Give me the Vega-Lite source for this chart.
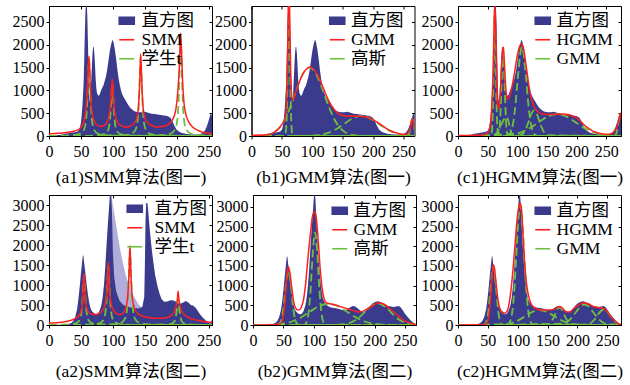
{
"$schema":"https://vega.github.io/schema/vega-lite/v6.json",
"padding":{"left":11,"top":5,"right":0,"bottom":0},
"autosize":{"type":"pad"},
"config":{
 "font":"Liberation Serif, Noto Sans CJK SC",
 "view":{"stroke":"#000","strokeWidth":1},
 "axis":{"labelFont":"Liberation Serif, Noto Sans CJK SC","labelFontSize":16,"labelColor":"#000","domainColor":"#000","tickColor":"#000","tickSize":3,"grid":false,"labelFlush":false,"labelOverlap":false,"format":"d","titleFont":"Liberation Serif, Noto Sans CJK SC","titleFontSize":17.5,"titleFontWeight":"normal","titleColor":"#000"},
 "axisY":{"labelPadding":2,"labelOverlap":false},
 "axisX":{"labelPadding":4,"titlePadding":9},
 "legend":{"labelFont":"Liberation Serif, Noto Sans CJK SC","labelFontSize":17.5,"labelColor":"#000","symbolType":"stroke","symbolSize":225,"rowPadding":0,"labelOffset":5,"padding":0}
},
"datasets":{
"ax":[{"v":0,"y":0}],
"h1":[{"x":0,"y":15},{"x":10,"y":15},{"x":20,"y":25},{"x":25,"y":50},{"x":30,"y":60},{"x":35,"y":70},{"x":40,"y":80},{"x":45,"y":100},{"x":48,"y":150},{"x":50,"y":300},{"x":52,"y":600},{"x":54,"y":1100},{"x":55,"y":1600},{"x":56,"y":2200},{"x":57,"y":2700},{"x":58,"y":2950},{"x":59,"y":2950},{"x":60,"y":2600},{"x":61,"y":2000},{"x":62,"y":1300},{"x":63,"y":850},{"x":64,"y":750},{"x":65,"y":900},{"x":66,"y":1200},{"x":67,"y":1500},{"x":68,"y":1800},{"x":69,"y":1950},{"x":70,"y":1950},{"x":71,"y":1800},{"x":72,"y":1550},{"x":73,"y":1250},{"x":74,"y":1050},{"x":75,"y":950},{"x":77,"y":880},{"x":79,"y":900},{"x":81,"y":980},{"x":83,"y":1050},{"x":85,"y":1100},{"x":87,"y":1200},{"x":89,"y":1300},{"x":91,"y":1450},{"x":93,"y":1650},{"x":95,"y":1850},{"x":97,"y":2000},{"x":99,"y":2100},{"x":100,"y":2100},{"x":101,"y":2050},{"x":103,"y":1900},{"x":105,"y":1700},{"x":107,"y":1450},{"x":109,"y":1250},{"x":111,"y":1100},{"x":113,"y":980},{"x":115,"y":900},{"x":118,"y":820},{"x":121,"y":750},{"x":124,"y":680},{"x":127,"y":620},{"x":130,"y":580},{"x":133,"y":550},{"x":136,"y":530},{"x":140,"y":520},{"x":145,"y":520},{"x":150,"y":530},{"x":155,"y":510},{"x":160,"y":490},{"x":165,"y":480},{"x":170,"y":470},{"x":175,"y":460},{"x":180,"y":450},{"x":185,"y":440},{"x":190,"y":400},{"x":193,"y":330},{"x":196,"y":230},{"x":200,"y":130},{"x":205,"y":80},{"x":210,"y":60},{"x":215,"y":45},{"x":220,"y":40},{"x":225,"y":35},{"x":230,"y":35},{"x":235,"y":40},{"x":240,"y":60},{"x":243,"y":100},{"x":246,"y":180},{"x":249,"y":300},{"x":251,"y":400},{"x":253,"y":500},{"x":255,"y":450}],
"h2":[{"x":0,"y":0},{"x":20,"y":5},{"x":30,"y":20},{"x":35,"y":50},{"x":38,"y":100},{"x":41,"y":200},{"x":44,"y":400},{"x":46,"y":650},{"x":48,"y":950},{"x":50,"y":1300},{"x":52,"y":1600},{"x":53,"y":1750},{"x":54,"y":1720},{"x":55,"y":1550},{"x":57,"y":1300},{"x":59,"y":1000},{"x":61,"y":750},{"x":63,"y":550},{"x":65,"y":420},{"x":67,"y":350},{"x":70,"y":300},{"x":73,"y":270},{"x":76,"y":280},{"x":79,"y":350},{"x":82,"y":500},{"x":84,"y":700},{"x":86,"y":1000},{"x":88,"y":1450},{"x":90,"y":2000},{"x":92,"y":2500},{"x":94,"y":2950},{"x":95,"y":3200},{"x":96,"y":3350},{"x":97,"y":3350},{"x":98,"y":3100},{"x":99,"y":2700},{"x":101,"y":2100},{"x":103,"y":1600},{"x":105,"y":1200},{"x":107,"y":900},{"x":109,"y":700},{"x":111,"y":600},{"x":114,"y":520},{"x":117,"y":480},{"x":120,"y":460},{"x":124,"y":440},{"x":128,"y":430},{"x":132,"y":420},{"x":136,"y":400},{"x":140,"y":380},{"x":144,"y":380},{"x":148,"y":400},{"x":152,"y":450},{"x":156,"y":480},{"x":160,"y":470},{"x":164,"y":420},{"x":168,"y":360},{"x":172,"y":330},{"x":176,"y":350},{"x":180,"y":420},{"x":184,"y":500},{"x":188,"y":560},{"x":192,"y":590},{"x":196,"y":600},{"x":200,"y":580},{"x":204,"y":540},{"x":208,"y":500},{"x":212,"y":480},{"x":216,"y":470},{"x":220,"y":460},{"x":224,"y":470},{"x":228,"y":480},{"x":231,"y":450},{"x":234,"y":380},{"x":238,"y":280},{"x":242,"y":200},{"x":246,"y":130},{"x":250,"y":70},{"x":253,"y":30},{"x":255,"y":10}],
"h2a":[{"x":0,"y":0},{"x":20,"y":5},{"x":30,"y":20},{"x":35,"y":50},{"x":38,"y":100},{"x":41,"y":200},{"x":44,"y":400},{"x":46,"y":650},{"x":48,"y":950},{"x":50,"y":1300},{"x":52,"y":1600},{"x":53,"y":1750},{"x":54,"y":1720},{"x":55,"y":1550},{"x":57,"y":1300},{"x":59,"y":1000},{"x":61,"y":750},{"x":63,"y":550},{"x":65,"y":420},{"x":67,"y":350},{"x":70,"y":300},{"x":73,"y":270},{"x":76,"y":280},{"x":79,"y":350},{"x":82,"y":500},{"x":84,"y":700},{"x":86,"y":1000},{"x":88,"y":1450},{"x":90,"y":2000},{"x":92,"y":2500},{"x":94,"y":2950},{"x":95,"y":3200},{"x":96,"y":3350},{"x":97,"y":3350},{"x":98,"y":3100},{"x":99,"y":2600},{"x":100,"y":1800},{"x":102,"y":1200},{"x":105,"y":850},{"x":110,"y":620},{"x":115,"y":520},{"x":120,"y":470},{"x":130,"y":430},{"x":140,"y":410},{"x":146,"y":450},{"x":149,"y":700},{"x":150,"y":1500},{"x":151,"y":2600},{"x":152,"y":3050},{"x":154,"y":3050},{"x":155,"y":2900},{"x":157,"y":2500},{"x":160,"y":2000},{"x":163,"y":1600},{"x":166,"y":1250},{"x":170,"y":950},{"x":173,"y":780},{"x":176,"y":650},{"x":180,"y":580},{"x":185,"y":590},{"x":190,"y":620},{"x":195,"y":610},{"x":200,"y":570},{"x":205,"y":530},{"x":210,"y":560},{"x":214,"y":600},{"x":218,"y":560},{"x":222,"y":500},{"x":226,"y":480},{"x":230,"y":420},{"x":234,"y":320},{"x":238,"y":230},{"x":242,"y":160},{"x":246,"y":100},{"x":250,"y":50},{"x":253,"y":40},{"x":255,"y":150}],
"lav":[{"x":99,"y":3150},{"x":102,"y":2800},{"x":106,"y":2400},{"x":110,"y":2000},{"x":115,"y":1600},{"x":120,"y":1250},{"x":125,"y":1000},{"x":130,"y":800},{"x":135,"y":650},{"x":140,"y":520},{"x":145,"y":430},{"x":149,"y":380}],
"rA1":[{"x":0,"y":50},{"x":15,"y":60},{"x":30,"y":80},{"x":40,"y":110},{"x":48,"y":160},{"x":53,"y":260},{"x":56,"y":400},{"x":58,"y":600},{"x":60,"y":1000},{"x":61,"y":1300},{"x":62,"y":1600},{"x":62.6,"y":1750},{"x":63.5,"y":1550},{"x":64.5,"y":1100},{"x":66,"y":700},{"x":68,"y":450},{"x":71,"y":320},{"x":75,"y":240},{"x":80,"y":210},{"x":85,"y":220},{"x":90,"y":280},{"x":94,"y":450},{"x":96,"y":650},{"x":97.5,"y":950},{"x":99,"y":1250},{"x":100.5,"y":950},{"x":102,"y":620},{"x":104,"y":430},{"x":108,"y":290},{"x":114,"y":220},{"x":120,"y":200},{"x":126,"y":210},{"x":132,"y":260},{"x":137,"y":380},{"x":140,"y":650},{"x":142,"y":1200},{"x":143.4,"y":1800},{"x":145,"y":1250},{"x":147,"y":650},{"x":150,"y":400},{"x":155,"y":280},{"x":162,"y":220},{"x":170,"y":200},{"x":178,"y":210},{"x":186,"y":250},{"x":193,"y":350},{"x":198,"y":550},{"x":201,"y":900},{"x":203.5,"y":1400},{"x":205,"y":1900},{"x":206,"y":2250},{"x":207.5,"y":1800},{"x":209,"y":1200},{"x":211,"y":750},{"x":214,"y":480},{"x":219,"y":300},{"x":226,"y":180},{"x":235,"y":110},{"x":245,"y":70},{"x":255,"y":50}],
"gA1":[{"x":0,"y":3,"k":1},{"x":37.6,"y":17,"k":1},{"x":48.6,"y":51,"k":1},{"x":54.6,"y":136,"k":1},{"x":57.6,"y":306,"k":1},{"x":59.6,"y":680,"k":1},{"x":60.6,"y":1020,"k":1},{"x":61.6,"y":1445,"k":1},{"x":62.6,"y":1700,"k":1},{"x":63.6,"y":1445,"k":1},{"x":64.6,"y":1020,"k":1},{"x":65.6,"y":680,"k":1},{"x":67.6,"y":306,"k":1},{"x":70.6,"y":136,"k":1},{"x":76.6,"y":51,"k":1},{"x":87.6,"y":17,"k":1},{"x":112.6,"y":5,"k":1},{"x":255,"y":1,"k":1},
{"x":0,"y":2,"k":2},{"x":49,"y":3,"k":2},{"x":74,"y":12,"k":2},{"x":85,"y":35,"k":2},{"x":91,"y":92,"k":2},{"x":94,"y":207,"k":2},{"x":96,"y":460,"k":2},{"x":97,"y":690,"k":2},{"x":98,"y":978,"k":2},{"x":99,"y":1150,"k":2},{"x":100,"y":978,"k":2},{"x":101,"y":690,"k":2},{"x":102,"y":460,"k":2},{"x":104,"y":207,"k":2},{"x":107,"y":92,"k":2},{"x":113,"y":35,"k":2},{"x":124,"y":12,"k":2},{"x":149,"y":3,"k":2},{"x":255,"y":1,"k":2},
{"x":0,"y":2,"k":3},{"x":93.4,"y":5,"k":3},{"x":118.4,"y":18,"k":3},{"x":129.4,"y":53,"k":3},{"x":135.4,"y":140,"k":3},{"x":138.4,"y":315,"k":3},{"x":140.4,"y":700,"k":3},{"x":141.4,"y":1050,"k":3},{"x":142.4,"y":1488,"k":3},{"x":143.4,"y":1750,"k":3},{"x":144.4,"y":1488,"k":3},{"x":145.4,"y":1050,"k":3},{"x":146.4,"y":700,"k":3},{"x":148.4,"y":315,"k":3},{"x":151.4,"y":140,"k":3},{"x":157.4,"y":53,"k":3},{"x":168.4,"y":18,"k":3},{"x":193.4,"y":5,"k":3},{"x":255,"y":2,"k":3},
{"x":0,"y":2,"k":4},{"x":156,"y":6,"k":4},{"x":181,"y":22,"k":4},{"x":192,"y":65,"k":4},{"x":198,"y":172,"k":4},{"x":201,"y":387,"k":4},{"x":203,"y":860,"k":4},{"x":204,"y":1290,"k":4},{"x":205,"y":1828,"k":4},{"x":206,"y":2150,"k":4},{"x":207,"y":1828,"k":4},{"x":208,"y":1290,"k":4},{"x":209,"y":860,"k":4},{"x":211,"y":387,"k":4},{"x":214,"y":172,"k":4},{"x":220,"y":65,"k":4},{"x":231,"y":22,"k":4},{"x":255,"y":6,"k":4}],
"rB1":[{"x":0,"y":15},{"x":20,"y":20},{"x":30,"y":45},{"x":40,"y":128},{"x":45,"y":203},{"x":50,"y":306},{"x":53,"y":408},{"x":55,"y":840},{"x":56.5,"y":1900},{"x":57.5,"y":2790},{"x":58.5,"y":3200},{"x":59.5,"y":2860},{"x":60.5,"y":2040},{"x":62,"y":1080},{"x":64,"y":790},{"x":66,"y":830},{"x":70,"y":1000},{"x":75,"y":1190},{"x":80,"y":1350},{"x":85,"y":1450},{"x":91,"y":1510},{"x":96,"y":1480},{"x":100,"y":1410},{"x":105,"y":1290},{"x":110,"y":1130},{"x":115,"y":960},{"x":120,"y":800},{"x":125,"y":670},{"x":130,"y":570},{"x":135,"y":500},{"x":140,"y":460},{"x":150,"y":440},{"x":160,"y":440},{"x":170,"y":435},{"x":180,"y":415},{"x":190,"y":360},{"x":200,"y":270},{"x":210,"y":175},{"x":220,"y":100},{"x":230,"y":55},{"x":238,"y":35},{"x":243,"y":45},{"x":246,"y":80},{"x":248.5,"y":190},{"x":250,"y":318},{"x":251.5,"y":378},{"x":253,"y":317},{"x":255,"y":150}],
"gB1":[{"x":0,"y":0,"k":1},{"x":50,"y":0,"k":1},{"x":53,"y":25,"k":1},{"x":55,"y":400,"k":1},{"x":56.5,"y":1420,"k":1},{"x":57.5,"y":2270,"k":1},{"x":58.5,"y":2650,"k":1},{"x":59.5,"y":2270,"k":1},{"x":60.5,"y":1420,"k":1},{"x":62,"y":400,"k":1},{"x":64,"y":25,"k":1},{"x":67,"y":0,"k":1},{"x":255,"y":0,"k":1},
{"x":0,"y":1,"k":2},{"x":20,"y":13,"k":2},{"x":30,"y":44,"k":2},{"x":40,"y":128,"k":2},{"x":50,"y":306,"k":2},{"x":60,"y":608,"k":2},{"x":70,"y":1000,"k":2},{"x":80,"y":1352,"k":2},{"x":91,"y":1500,"k":2},{"x":100,"y":1387,"k":2},{"x":110,"y":1066,"k":2},{"x":120,"y":678,"k":2},{"x":130,"y":356,"k":2},{"x":140,"y":155,"k":2},{"x":150,"y":56,"k":2},{"x":165,"y":8,"k":2},{"x":180,"y":1,"k":2},{"x":255,"y":0,"k":2},
{"x":0,"y":0,"k":3},{"x":90,"y":4,"k":3},{"x":100,"y":12,"k":3},{"x":115,"y":47,"k":3},{"x":125,"y":97,"k":3},{"x":135,"y":172,"k":3},{"x":145,"y":267,"k":3},{"x":155,"y":361,"k":3},{"x":163,"y":416,"k":3},{"x":172,"y":440,"k":3},{"x":185,"y":392,"k":3},{"x":195,"y":306,"k":3},{"x":205,"y":208,"k":3},{"x":215,"y":124,"k":3},{"x":225,"y":64,"k":3},{"x":235,"y":29,"k":3},{"x":245,"y":11,"k":3},{"x":255,"y":4,"k":3},
{"x":0,"y":0,"k":4},{"x":240,"y":0,"k":4},{"x":244,"y":4,"k":4},{"x":246.5,"y":50,"k":4},{"x":248.5,"y":180,"k":4},{"x":250,"y":310,"k":4},{"x":251.5,"y":370,"k":4},{"x":253,"y":310,"k":4},{"x":255,"y":140,"k":4}],
"rC1":[{"x":0,"y":10},{"x":30,"y":15},{"x":40,"y":25},{"x":45,"y":50},{"x":50,"y":200},{"x":53,"y":700},{"x":55,"y":1500},{"x":56.5,"y":2500},{"x":57.5,"y":2900},{"x":59,"y":2300},{"x":60.5,"y":1300},{"x":62,"y":700},{"x":64,"y":600},{"x":66,"y":900},{"x":68,"y":1500},{"x":70,"y":1900},{"x":71,"y":1950},{"x":73,"y":1500},{"x":75,"y":1000},{"x":77,"y":800},{"x":80,"y":850},{"x":84,"y":1050},{"x":88,"y":1350},{"x":92,"y":1700},{"x":96,"y":1950},{"x":99,"y":2020},{"x":102,"y":1950},{"x":105,"y":1700},{"x":108,"y":1400},{"x":111,"y":1100},{"x":114,"y":880},{"x":117,"y":720},{"x":121,"y":600},{"x":126,"y":520},{"x":132,"y":480},{"x":140,"y":470},{"x":150,"y":470},{"x":160,"y":480},{"x":168,"y":475},{"x":175,"y":460},{"x":182,"y":420},{"x":188,"y":370},{"x":194,"y":290},{"x":200,"y":210},{"x":206,"y":150},{"x":212,"y":100},{"x":218,"y":70},{"x":224,"y":50},{"x":230,"y":40},{"x":236,"y":40},{"x":242,"y":70},{"x":246,"y":130},{"x":249,"y":230},{"x":251,"y":330},{"x":253,"y":450},{"x":254,"y":500},{"x":255,"y":380}],
"gC1":[{"x":0,"y":0,"k":1},{"x":51,"y":0,"k":1},{"x":53,"y":100,"k":1},{"x":55,"y":900,"k":1},{"x":56.5,"y":2200,"k":1},{"x":57.5,"y":2750,"k":1},{"x":58.5,"y":2200,"k":1},{"x":60,"y":900,"k":1},{"x":62,"y":100,"k":1},{"x":64,"y":0,"k":1},{"x":255,"y":0,"k":1},
{"x":0,"y":0,"k":2},{"x":62,"y":0,"k":2},{"x":65,"y":150,"k":2},{"x":67,"y":700,"k":2},{"x":69,"y":1500,"k":2},{"x":70.5,"y":1850,"k":2},{"x":72,"y":1500,"k":2},{"x":74,"y":700,"k":2},{"x":76,"y":150,"k":2},{"x":79,"y":0,"k":2},{"x":255,"y":0,"k":2},
{"x":0,"y":0,"k":3},{"x":75,"y":3,"k":3},{"x":80,"y":33,"k":3},{"x":86,"y":264,"k":3},{"x":90,"y":701,"k":3},{"x":94,"y":1344,"k":3},{"x":100,"y":1950,"k":3},{"x":106,"y":1344,"k":3},{"x":110,"y":701,"k":3},{"x":114,"y":264,"k":3},{"x":120,"y":33,"k":3},{"x":126,"y":2,"k":3},{"x":255,"y":0,"k":3},
{"x":0,"y":0,"k":4},{"x":50,"y":2,"k":4},{"x":56,"y":18,"k":4},{"x":60,"y":57,"k":4},{"x":64,"y":136,"k":4},{"x":68,"y":254,"k":4},{"x":72,"y":368,"k":4},{"x":76,"y":420,"k":4},{"x":79,"y":320,"k":4},{"x":82,"y":135,"k":4},{"x":85,"y":33,"k":4},{"x":88,"y":4,"k":4},{"x":255,"y":0,"k":4},
{"x":0,"y":0,"k":5},{"x":95,"y":6,"k":5},{"x":100,"y":34,"k":5},{"x":105,"y":122,"k":5},{"x":110,"y":296,"k":5},{"x":115,"y":495,"k":5},{"x":119,"y":560,"k":5},{"x":123,"y":495,"k":5},{"x":128,"y":296,"k":5},{"x":133,"y":122,"k":5},{"x":140,"y":18,"k":5},{"x":255,"y":0,"k":5},
{"x":0,"y":0,"k":6},{"x":90,"y":46,"k":6},{"x":100,"y":89,"k":6},{"x":110,"y":156,"k":6},{"x":120,"y":243,"k":6},{"x":130,"y":339,"k":6},{"x":140,"y":424,"k":6},{"x":155,"y":480,"k":6},{"x":170,"y":424,"k":6},{"x":180,"y":339,"k":6},{"x":190,"y":243,"k":6},{"x":200,"y":156,"k":6},{"x":210,"y":89,"k":6},{"x":220,"y":46,"k":6},{"x":235,"y":14,"k":6},{"x":255,"y":2,"k":6},
{"x":0,"y":0,"k":7},{"x":244,"y":2,"k":7},{"x":247,"y":31,"k":7},{"x":250,"y":197,"k":7},{"x":252,"y":385,"k":7},{"x":254,"y":480,"k":7},{"x":255,"y":455,"k":7}],
"rA2":[{"x":0,"y":50},{"x":20,"y":70},{"x":35,"y":120},{"x":43,"y":180},{"x":48,"y":260},{"x":51,"y":400},{"x":52.5,"y":600},{"x":53.5,"y":900},{"x":54.8,"y":1290},{"x":56,"y":950},{"x":57.5,"y":600},{"x":59,"y":420},{"x":62,"y":320},{"x":67,"y":270},{"x":73,"y":260},{"x":79,"y":290},{"x":84,"y":370},{"x":88,"y":520},{"x":90.5,"y":800},{"x":91.8,"y":1150},{"x":92.8,"y":1560},{"x":93.8,"y":1150},{"x":95,"y":800},{"x":97.5,"y":500},{"x":101,"y":360},{"x":106,"y":280},{"x":111,"y":260},{"x":116,"y":300},{"x":120,"y":420},{"x":123,"y":700},{"x":125,"y":1200},{"x":126.7,"y":1990},{"x":128.3,"y":1200},{"x":130,"y":750},{"x":133,"y":450},{"x":138,"y":300},{"x":145,"y":230},{"x":155,"y":190},{"x":165,"y":170},{"x":175,"y":170},{"x":185,"y":190},{"x":192,"y":250},{"x":196,"y":330},{"x":199,"y":480},{"x":200.8,"y":650},{"x":202,"y":845},{"x":203.2,"y":650},{"x":205,"y":480},{"x":208,"y":330},{"x":213,"y":240},{"x":222,"y":160},{"x":235,"y":110},{"x":245,"y":80},{"x":255,"y":60}],
"gA2":[{"x":0,"y":3,"k":1},{"x":29.8,"y":12,"k":1},{"x":40.8,"y":37,"k":1},{"x":46.8,"y":98,"k":1},{"x":49.8,"y":221,"k":1},{"x":51.8,"y":492,"k":1},{"x":52.8,"y":738,"k":1},{"x":53.8,"y":1046,"k":1},{"x":54.8,"y":1230,"k":1},{"x":55.8,"y":1046,"k":1},{"x":56.8,"y":738,"k":1},{"x":57.8,"y":492,"k":1},{"x":59.8,"y":221,"k":1},{"x":62.8,"y":98,"k":1},{"x":68.8,"y":37,"k":1},{"x":79.8,"y":12,"k":1},{"x":104.8,"y":4,"k":1},{"x":255,"y":1,"k":1},
{"x":0,"y":1,"k":2},{"x":42.8,"y":4,"k":2},{"x":67.8,"y":15,"k":2},{"x":78.8,"y":44,"k":2},{"x":84.8,"y":118,"k":2},{"x":87.8,"y":266,"k":2},{"x":89.8,"y":592,"k":2},{"x":90.8,"y":888,"k":2},{"x":91.8,"y":1258,"k":2},{"x":92.8,"y":1480,"k":2},{"x":93.8,"y":1258,"k":2},{"x":94.8,"y":888,"k":2},{"x":95.8,"y":592,"k":2},{"x":97.8,"y":266,"k":2},{"x":100.8,"y":118,"k":2},{"x":106.8,"y":44,"k":2},{"x":117.8,"y":15,"k":2},{"x":142.8,"y":4,"k":2},{"x":255,"y":1,"k":2},
{"x":0,"y":1,"k":3},{"x":76.7,"y":6,"k":3},{"x":101.7,"y":19,"k":3},{"x":112.7,"y":57,"k":3},{"x":118.7,"y":152,"k":3},{"x":121.7,"y":342,"k":3},{"x":123.7,"y":760,"k":3},{"x":124.7,"y":1140,"k":3},{"x":125.7,"y":1615,"k":3},{"x":126.7,"y":1900,"k":3},{"x":127.7,"y":1615,"k":3},{"x":128.7,"y":1140,"k":3},{"x":129.7,"y":760,"k":3},{"x":131.7,"y":342,"k":3},{"x":134.7,"y":152,"k":3},{"x":140.7,"y":57,"k":3},{"x":151.7,"y":19,"k":3},{"x":176.7,"y":6,"k":3},{"x":255,"y":2,"k":3},
{"x":0,"y":1,"k":4},{"x":152,"y":2,"k":4},{"x":177,"y":7,"k":4},{"x":188,"y":20,"k":4},{"x":194,"y":52,"k":4},{"x":197,"y":117,"k":4},{"x":199,"y":260,"k":4},{"x":200,"y":390,"k":4},{"x":201,"y":553,"k":4},{"x":202,"y":650,"k":4},{"x":203,"y":553,"k":4},{"x":204,"y":390,"k":4},{"x":205,"y":260,"k":4},{"x":207,"y":117,"k":4},{"x":210,"y":52,"k":4},{"x":216,"y":20,"k":4},{"x":227,"y":7,"k":4},{"x":255,"y":2,"k":4}],
"rB2":[{"x":0,"y":0},{"x":30,"y":5},{"x":40,"y":20},{"x":45,"y":80},{"x":48,"y":300},{"x":50,"y":600},{"x":52,"y":1050},{"x":54,"y":1380},{"x":55.5,"y":1480},{"x":58,"y":1300},{"x":61,"y":900},{"x":64,"y":560},{"x":67,"y":420},{"x":70,"y":380},{"x":73,"y":390},{"x":76,"y":470},{"x":79,"y":640},{"x":82,"y":1000},{"x":86,"y":1700},{"x":90,"y":2350},{"x":93,"y":2750},{"x":96.5,"y":2880},{"x":99,"y":2720},{"x":102,"y":2150},{"x":105,"y":1450},{"x":108,"y":950},{"x":111,"y":680},{"x":115,"y":560},{"x":120,"y":540},{"x":125,"y":520},{"x":130,"y":500},{"x":140,"y":450},{"x":150,"y":400},{"x":160,"y":350},{"x":165,"y":330},{"x":170,"y":340},{"x":178,"y":400},{"x":186,"y":480},{"x":194,"y":550},{"x":200,"y":550},{"x":206,"y":520},{"x":212,"y":440},{"x":220,"y":330},{"x":228,"y":220},{"x":236,"y":120},{"x":244,"y":60},{"x":250,"y":30},{"x":255,"y":15}],
"gB2":[{"x":0,"y":0,"k":1},{"x":38,"y":0,"k":1},{"x":42,"y":40,"k":1},{"x":45,"y":165,"k":1},{"x":48,"y":475,"k":1},{"x":51,"y":950,"k":1},{"x":55.3,"y":1380,"k":1},{"x":59.5,"y":970,"k":1},{"x":62,"y":560,"k":1},{"x":65,"y":210,"k":1},{"x":68,"y":55,"k":1},{"x":72,"y":5,"k":1},{"x":255,"y":0,"k":1},
{"x":0,"y":0,"k":2},{"x":80,"y":0,"k":2},{"x":84,"y":80,"k":2},{"x":87,"y":318,"k":2},{"x":90,"y":880,"k":2},{"x":93,"y":1700,"k":2},{"x":97,"y":2350,"k":2},{"x":101,"y":1700,"k":2},{"x":104,"y":880,"k":2},{"x":107,"y":318,"k":2},{"x":110,"y":80,"k":2},{"x":114,"y":4,"k":2},{"x":255,"y":0,"k":2},
{"x":0,"y":0,"k":3},{"x":30,"y":7,"k":3},{"x":45,"y":28,"k":3},{"x":60,"y":83,"k":3},{"x":75,"y":192,"k":3},{"x":90,"y":349,"k":3},{"x":105,"y":491,"k":3},{"x":118,"y":540,"k":3},{"x":130,"y":499,"k":3},{"x":145,"y":358,"k":3},{"x":160,"y":203,"k":3},{"x":175,"y":89,"k":3},{"x":190,"y":30,"k":3},{"x":205,"y":8,"k":3},{"x":225,"y":1,"k":3},{"x":255,"y":0,"k":3},
{"x":0,"y":0,"k":4},{"x":135,"y":6,"k":4},{"x":150,"y":44,"k":4},{"x":160,"y":119,"k":4},{"x":170,"y":252,"k":4},{"x":180,"y":416,"k":4},{"x":195,"y":550,"k":4},{"x":210,"y":416,"k":4},{"x":220,"y":252,"k":4},{"x":230,"y":119,"k":4},{"x":240,"y":44,"k":4},{"x":255,"y":6,"k":4}],
"rC2":[{"x":0,"y":0},{"x":40,"y":5},{"x":45,"y":50},{"x":48,"y":200},{"x":50,"y":500},{"x":52,"y":950},{"x":54,"y":1350},{"x":55.5,"y":1520},{"x":57,"y":1450},{"x":59,"y":1150},{"x":61,"y":850},{"x":63,"y":600},{"x":66,"y":400},{"x":70,"y":320},{"x":73,"y":300},{"x":77,"y":350},{"x":80,"y":550},{"x":83,"y":900},{"x":86,"y":1400},{"x":89,"y":2000},{"x":92,"y":2600},{"x":95,"y":3000},{"x":97,"y":3100},{"x":99,"y":3000},{"x":101,"y":2500},{"x":103,"y":1900},{"x":105,"y":1400},{"x":108,"y":950},{"x":111,"y":700},{"x":114,"y":550},{"x":118,"y":460},{"x":124,"y":400},{"x":130,"y":380},{"x":136,"y":380},{"x":142,"y":380},{"x":148,"y":390},{"x":154,"y":430},{"x":158,"y":470},{"x":162,"y":450},{"x":166,"y":380},{"x":170,"y":330},{"x":175,"y":330},{"x":180,"y":400},{"x":186,"y":480},{"x":192,"y":540},{"x":198,"y":560},{"x":204,"y":540},{"x":210,"y":480},{"x":216,"y":450},{"x":222,"y":440},{"x":228,"y":420},{"x":234,"y":330},{"x":240,"y":200},{"x":246,"y":90},{"x":251,"y":30},{"x":255,"y":10}],
"gC2":[{"x":0,"y":0,"k":1},{"x":40,"y":0,"k":1},{"x":44,"y":65,"k":1},{"x":47,"y":275,"k":1},{"x":50,"y":750,"k":1},{"x":55.3,"y":1500,"k":1},{"x":60,"y":870,"k":1},{"x":63,"y":350,"k":1},{"x":67,"y":50,"k":1},{"x":72,"y":2,"k":1},{"x":255,"y":0,"k":1},
{"x":0,"y":0,"k":2},{"x":78,"y":15,"k":2},{"x":82,"y":106,"k":2},{"x":85,"y":346,"k":2},{"x":88,"y":870,"k":2},{"x":91,"y":1700,"k":2},{"x":94,"y":2575,"k":2},{"x":97.5,"y":3050,"k":2},{"x":101,"y":2575,"k":2},{"x":104,"y":1700,"k":2},{"x":107,"y":870,"k":2},{"x":110,"y":346,"k":2},{"x":113,"y":106,"k":2},{"x":117,"y":15,"k":2},{"x":255,"y":0,"k":2},
{"x":0,"y":0,"k":3},{"x":70,"y":1,"k":3},{"x":85,"y":56,"k":3},{"x":95,"y":123,"k":3},{"x":105,"y":220,"k":3},{"x":115,"y":320,"k":3},{"x":128,"y":380,"k":3},{"x":140,"y":327,"k":3},{"x":150,"y":230,"k":3},{"x":160,"y":132,"k":3},{"x":170,"y":62,"k":3},{"x":185,"y":13,"k":3},{"x":200,"y":2,"k":3},{"x":255,"y":0,"k":3},
{"x":0,"y":0,"k":4},{"x":140,"y":11,"k":4},{"x":145,"y":61,"k":4},{"x":150,"y":199,"k":4},{"x":155,"y":381,"k":4},{"x":159,"y":450,"k":4},{"x":163,"y":381,"k":4},{"x":168,"y":199,"k":4},{"x":173,"y":61,"k":4},{"x":178,"y":11,"k":4},{"x":255,"y":0,"k":4},
{"x":0,"y":0,"k":5},{"x":165,"y":32,"k":5},{"x":175,"y":135,"k":5},{"x":185,"y":337,"k":5},{"x":192,"y":474,"k":5},{"x":198,"y":520,"k":5},{"x":204,"y":474,"k":5},{"x":211,"y":337,"k":5},{"x":221,"y":135,"k":5},{"x":231,"y":32,"k":5},{"x":255,"y":2,"k":5},
{"x":0,"y":0,"k":6},{"x":200,"y":9,"k":6},{"x":208,"y":54,"k":6},{"x":214,"y":150,"k":6},{"x":220,"y":290,"k":6},{"x":228,"y":400,"k":6},{"x":236,"y":290,"k":6},{"x":242,"y":150,"k":6},{"x":248,"y":54,"k":6},{"x":255,"y":10,"k":6}]
},
"vconcat":[
{"hconcat":[
 {"width":163,"height":130,"resolve":{"scale":{"x":"independent","y":"independent"}},
  "layer":[
  {"data":{"name":"ax"},"mark":{"type":"point","opacity":0},"encoding":{"x":{"field":"v","type":"quantitative","scale":{"domain":[0,255],"nice":false},"axis":{"orient":"bottom","values":[0,50,100,150,200,250],"labelOverlap":false,"title":"(a1)SMM算法(图一)"}},"y":{"field":"y","type":"quantitative","scale":{"domain":[0,2850],"nice":false},"axis":{"orient":"left","values":[0,500,1000,1500,2000,2500],"labelOverlap":false,"format":"d","title":null}}}},
  {"data":{"name":"ax"},"mark":{"type":"point","opacity":0},"encoding":{"x":{"field":"v","type":"quantitative","scale":{"domain":[0,255],"nice":false},"axis":{"orient":"top","values":[0,50,100,150,200,250],"labels":false,"domain":false,"tickSize":-3,"title":null}},"y":{"field":"y","type":"quantitative","scale":{"domain":[0,2850],"nice":false},"axis":{"orient":"right","values":[0,500,1000,1500,2000,2500],"labels":false,"domain":false,"tickSize":-3,"title":null}}}},
  {"data":{"name":"h1"},"mark":{"type":"area","clip":true},"encoding":{"x":{"field":"x","type":"quantitative","scale":{"domain":[0,255],"nice":false},"axis":null},"y":{"field":"y","type":"quantitative","scale":{"domain":[0,2850],"nice":false},"axis":null},"color":{"datum":"直方图","scale":{"domain":["直方图","SMM","学生t"],"range":["#3b3b8e","#ff1f1f","#6fc040"]},"legend":{"title":null,"orient":"none","legendX":69,"legendY":6,"labelOffset":6,"encode":{"symbols":{"update":{"shape":{"signal":"datum.value==='直方图'?'M-1,-0.45H1V0.45H-1Z':'stroke'"},"stroke":{"signal":"datum.value==='直方图'?'transparent':datum.value==='SMM'?'#ff1f1f':'#6fc040'"},"strokeWidth":{"value":1.6},"fill":{"signal":"datum.value==='直方图'?'#3b3b8e':'transparent'"},"strokeDash":{"value":[]}}}}}}}},
  {"data":{"name":"gA1"},"mark":{"type":"line","clip":true,"strokeDash":[8,4],"strokeWidth":1.8,"interpolate":"monotone"},"encoding":{"x":{"field":"x","type":"quantitative","scale":{"domain":[0,255],"nice":false},"axis":null},"y":{"field":"y","type":"quantitative","scale":{"domain":[0,2850],"nice":false},"axis":null},"detail":{"field":"k"},"color":{"datum":"学生t"}}},
  {"data":{"name":"rA1"},"mark":{"type":"line","clip":true,"strokeWidth":1.5,"interpolate":"monotone"},"encoding":{"x":{"field":"x","type":"quantitative","scale":{"domain":[0,255],"nice":false},"axis":null},"y":{"field":"y","type":"quantitative","scale":{"domain":[0,2850],"nice":false},"axis":null},"color":{"datum":"SMM"}}}
 ]},
 {"hconcat":[
  {"width":163,"height":130,"resolve":{"scale":{"x":"independent","y":"independent"}},
   "layer":[
   {"data":{"name":"ax"},"mark":{"type":"point","opacity":0},"encoding":{"x":{"field":"v","type":"quantitative","scale":{"domain":[0,268],"nice":false},"axis":{"orient":"bottom","values":[0,50,100,150,200,250],"labelOverlap":false,"title":"(b1)GMM算法(图一)"}},"y":{"field":"y","type":"quantitative","scale":{"domain":[0,2850],"nice":false},"axis":{"orient":"left","values":[0,500,1000,1500,2000,2500],"labelOverlap":false,"format":"d","title":null}}}},
   {"data":{"name":"ax"},"mark":{"type":"point","opacity":0},"encoding":{"x":{"field":"v","type":"quantitative","scale":{"domain":[0,268],"nice":false},"axis":{"orient":"top","values":[0,50,100,150,200,250],"labels":false,"domain":false,"tickSize":-3,"title":null}},"y":{"field":"y","type":"quantitative","scale":{"domain":[0,2850],"nice":false},"axis":{"orient":"right","values":[0,500,1000,1500,2000,2500],"labels":false,"domain":false,"tickSize":-3,"title":null}}}},
   {"data":{"name":"h1"},"mark":{"type":"area","clip":true},"encoding":{"x":{"field":"x","type":"quantitative","scale":{"domain":[0,255],"nice":false},"axis":null},"y":{"field":"y","type":"quantitative","scale":{"domain":[0,2850],"nice":false},"axis":null},"color":{"datum":"直方图","scale":{"domain":["直方图","GMM","高斯"],"range":["#3b3b8e","#ff1f1f","#6fc040"]},"legend":{"title":null,"orient":"none","legendX":77,"legendY":6,"labelOffset":5,"encode":{"symbols":{"update":{"shape":{"signal":"datum.value==='直方图'?'M-1,-0.45H1V0.45H-1Z':'stroke'"},"stroke":{"signal":"datum.value==='直方图'?'transparent':datum.value==='GMM'?'#ff1f1f':'#6fc040'"},"strokeWidth":{"value":1.6},"fill":{"signal":"datum.value==='直方图'?'#3b3b8e':'transparent'"},"strokeDash":{"value":[]}}}}}}}},
   {"data":{"name":"gB1"},"mark":{"type":"line","clip":true,"strokeDash":[8,4],"strokeWidth":1.8,"interpolate":"monotone"},"encoding":{"x":{"field":"x","type":"quantitative","scale":{"domain":[0,255],"nice":false},"axis":null},"y":{"field":"y","type":"quantitative","scale":{"domain":[0,2850],"nice":false},"axis":null},"detail":{"field":"k"},"color":{"datum":"高斯"}}},
   {"data":{"name":"rB1"},"mark":{"type":"line","clip":true,"strokeWidth":1.5,"interpolate":"monotone"},"encoding":{"x":{"field":"x","type":"quantitative","scale":{"domain":[0,255],"nice":false},"axis":null},"y":{"field":"y","type":"quantitative","scale":{"domain":[0,2850],"nice":false},"axis":null},"color":{"datum":"GMM"}}}
  ]},
  {"width":163,"height":130,"resolve":{"scale":{"x":"independent","y":"independent"}},
   "layer":[
   {"data":{"name":"ax"},"mark":{"type":"point","opacity":0},"encoding":{"x":{"field":"v","type":"quantitative","scale":{"domain":[0,275],"nice":false},"axis":{"orient":"bottom","values":[0,50,100,150,200,250],"labelOverlap":false,"title":"(c1)HGMM算法(图一)"}},"y":{"field":"y","type":"quantitative","scale":{"domain":[0,2850],"nice":false},"axis":{"orient":"left","values":[0,500,1000,1500,2000,2500],"labelOverlap":false,"format":"d","title":null}}}},
   {"data":{"name":"ax"},"mark":{"type":"point","opacity":0},"encoding":{"x":{"field":"v","type":"quantitative","scale":{"domain":[0,275],"nice":false},"axis":{"orient":"top","values":[0,50,100,150,200,250],"labels":false,"domain":false,"tickSize":-3,"title":null}},"y":{"field":"y","type":"quantitative","scale":{"domain":[0,2850],"nice":false},"axis":{"orient":"right","values":[0,500,1000,1500,2000,2500],"labels":false,"domain":false,"tickSize":-3,"title":null}}}},
   {"data":{"name":"h1"},"mark":{"type":"area","clip":true},"encoding":{"x":{"field":"x","type":"quantitative","scale":{"domain":[0,255],"nice":false},"axis":null},"y":{"field":"y","type":"quantitative","scale":{"domain":[0,2850],"nice":false},"axis":null},"color":{"datum":"直方图","scale":{"domain":["直方图","HGMM","GMM"],"range":["#3b3b8e","#ff1f1f","#6fc040"]},"legend":{"title":null,"orient":"none","legendX":76,"legendY":6,"labelOffset":5,"encode":{"symbols":{"update":{"shape":{"signal":"datum.value==='直方图'?'M-1,-0.45H1V0.45H-1Z':'stroke'"},"stroke":{"signal":"datum.value==='直方图'?'transparent':datum.value==='HGMM'?'#ff1f1f':'#6fc040'"},"strokeWidth":{"value":1.6},"fill":{"signal":"datum.value==='直方图'?'#3b3b8e':'transparent'"},"strokeDash":{"value":[]}}}}}}}},
   {"data":{"name":"gC1"},"mark":{"type":"line","clip":true,"strokeDash":[8,4],"strokeWidth":1.8,"interpolate":"monotone"},"encoding":{"x":{"field":"x","type":"quantitative","scale":{"domain":[0,255],"nice":false},"axis":null},"y":{"field":"y","type":"quantitative","scale":{"domain":[0,2850],"nice":false},"axis":null},"detail":{"field":"k"},"color":{"datum":"GMM"}}},
   {"data":{"name":"rC1"},"mark":{"type":"line","clip":true,"strokeWidth":1.5,"interpolate":"monotone"},"encoding":{"x":{"field":"x","type":"quantitative","scale":{"domain":[0,255],"nice":false},"axis":null},"y":{"field":"y","type":"quantitative","scale":{"domain":[0,2850],"nice":false},"axis":null},"color":{"datum":"HGMM"}}}
  ]}
 ],"spacing":43.5,"bounds":"flush","resolve":{"scale":{"color":"independent"},"legend":{"color":"independent"}}}
],"spacing":39.5,"bounds":"flush","resolve":{"scale":{"color":"independent"},"legend":{"color":"independent"}}},
{"hconcat":[
 {"width":163,"height":130,"resolve":{"scale":{"x":"independent","y":"independent"}},
  "layer":[
  {"data":{"name":"ax"},"mark":{"type":"point","opacity":0},"encoding":{"x":{"field":"v","type":"quantitative","scale":{"domain":[0,255],"nice":false},"axis":{"orient":"bottom","values":[0,50,100,150,200,250],"labelOverlap":false,"titlePadding":14,"title":"(a2)SMM算法(图二)"}},"y":{"field":"y","type":"quantitative","scale":{"domain":[0,3250],"nice":false},"axis":{"orient":"left","values":[0,500,1000,1500,2000,2500,3000],"labelOverlap":false,"format":"d","title":null}}}},
  {"data":{"name":"ax"},"mark":{"type":"point","opacity":0},"encoding":{"x":{"field":"v","type":"quantitative","scale":{"domain":[0,255],"nice":false},"axis":{"orient":"top","values":[0,50,100,150,200,250],"labels":false,"domain":false,"tickSize":-3,"title":null}},"y":{"field":"y","type":"quantitative","scale":{"domain":[0,3250],"nice":false},"axis":{"orient":"right","values":[0,500,1000,1500,2000,2500,3000],"labels":false,"domain":false,"tickSize":-3,"title":null}}}},
  {"data":{"name":"lav"},"mark":{"type":"area","clip":true,"color":"#b1addb"},"encoding":{"x":{"field":"x","type":"quantitative","scale":{"domain":[0,255],"nice":false},"axis":null},"y":{"field":"y","type":"quantitative","scale":{"domain":[0,3250],"nice":false},"axis":null}}},
  {"data":{"name":"h2a"},"mark":{"type":"area","clip":true},"encoding":{"x":{"field":"x","type":"quantitative","scale":{"domain":[0,255],"nice":false},"axis":null},"y":{"field":"y","type":"quantitative","scale":{"domain":[0,3250],"nice":false},"axis":null},"color":{"datum":"直方图","scale":{"domain":["直方图","SMM","学生t"],"range":["#3b3b8e","#ff1f1f","#6fc040"]},"legend":{"title":null,"orient":"none","legendX":77,"legendY":5,"labelOffset":11,"encode":{"symbols":{"update":{"shape":{"signal":"datum.value==='直方图'?'M-1,-0.45H1V0.45H-1Z':'stroke'"},"stroke":{"signal":"datum.value==='直方图'?'transparent':datum.value==='SMM'?'#ff1f1f':'#6fc040'"},"strokeWidth":{"value":1.6},"fill":{"signal":"datum.value==='直方图'?'#3b3b8e':'transparent'"},"strokeDash":{"value":[]}}}}}}}},
  {"data":{"name":"gA2"},"mark":{"type":"line","clip":true,"strokeDash":[8,4],"strokeWidth":1.8,"interpolate":"monotone"},"encoding":{"x":{"field":"x","type":"quantitative","scale":{"domain":[0,255],"nice":false},"axis":null},"y":{"field":"y","type":"quantitative","scale":{"domain":[0,3250],"nice":false},"axis":null},"detail":{"field":"k"},"color":{"datum":"学生t"}}},
  {"data":{"name":"rA2"},"mark":{"type":"line","clip":true,"strokeWidth":1.5,"interpolate":"monotone"},"encoding":{"x":{"field":"x","type":"quantitative","scale":{"domain":[0,255],"nice":false},"axis":null},"y":{"field":"y","type":"quantitative","scale":{"domain":[0,3250],"nice":false},"axis":null},"color":{"datum":"SMM"}}}
 ]},
 {"hconcat":[
  {"width":163,"height":130,"resolve":{"scale":{"x":"independent","y":"independent"}},
   "layer":[
   {"data":{"name":"ax"},"mark":{"type":"point","opacity":0},"encoding":{"x":{"field":"v","type":"quantitative","scale":{"domain":[0,268],"nice":false},"axis":{"orient":"bottom","values":[0,50,100,150,200,250],"labelOverlap":false,"titlePadding":14,"title":"(b2)GMM算法(图二)"}},"y":{"field":"y","type":"quantitative","scale":{"domain":[0,3300],"nice":false},"axis":{"orient":"left","values":[0,500,1000,1500,2000,2500,3000],"labelOverlap":false,"format":"d","title":null}}}},
   {"data":{"name":"ax"},"mark":{"type":"point","opacity":0},"encoding":{"x":{"field":"v","type":"quantitative","scale":{"domain":[0,268],"nice":false},"axis":{"orient":"top","values":[0,50,100,150,200,250],"labels":false,"domain":false,"tickSize":-3,"title":null}},"y":{"field":"y","type":"quantitative","scale":{"domain":[0,3300],"nice":false},"axis":{"orient":"right","values":[0,500,1000,1500,2000,2500,3000],"labels":false,"domain":false,"tickSize":-3,"title":null}}}},
   {"data":{"name":"h2"},"mark":{"type":"area","clip":true},"encoding":{"x":{"field":"x","type":"quantitative","scale":{"domain":[0,255],"nice":false},"axis":null},"y":{"field":"y","type":"quantitative","scale":{"domain":[0,3300],"nice":false},"axis":null},"color":{"datum":"直方图","scale":{"domain":["直方图","GMM","高斯"],"range":["#3b3b8e","#ff1f1f","#6fc040"]},"legend":{"title":null,"orient":"none","legendX":78,"legendY":7,"labelOffset":5,"encode":{"symbols":{"update":{"shape":{"signal":"datum.value==='直方图'?'M-1,-0.45H1V0.45H-1Z':'stroke'"},"stroke":{"signal":"datum.value==='直方图'?'transparent':datum.value==='GMM'?'#ff1f1f':'#6fc040'"},"strokeWidth":{"value":1.6},"fill":{"signal":"datum.value==='直方图'?'#3b3b8e':'transparent'"},"strokeDash":{"value":[]}}}}}}}},
   {"data":{"name":"gB2"},"mark":{"type":"line","clip":true,"strokeDash":[8,4],"strokeWidth":1.8,"interpolate":"monotone"},"encoding":{"x":{"field":"x","type":"quantitative","scale":{"domain":[0,255],"nice":false},"axis":null},"y":{"field":"y","type":"quantitative","scale":{"domain":[0,3300],"nice":false},"axis":null},"detail":{"field":"k"},"color":{"datum":"高斯"}}},
   {"data":{"name":"rB2"},"mark":{"type":"line","clip":true,"strokeWidth":1.5,"interpolate":"monotone"},"encoding":{"x":{"field":"x","type":"quantitative","scale":{"domain":[0,255],"nice":false},"axis":null},"y":{"field":"y","type":"quantitative","scale":{"domain":[0,3300],"nice":false},"axis":null},"color":{"datum":"GMM"}}}
  ]},
  {"width":163,"height":130,"resolve":{"scale":{"x":"independent","y":"independent"}},
   "layer":[
   {"data":{"name":"ax"},"mark":{"type":"point","opacity":0},"encoding":{"x":{"field":"v","type":"quantitative","scale":{"domain":[0,273],"nice":false},"axis":{"orient":"bottom","values":[0,50,100,150,200,250],"labelOverlap":false,"titlePadding":14,"title":"(c2)HGMM算法(图二)"}},"y":{"field":"y","type":"quantitative","scale":{"domain":[0,3300],"nice":false},"axis":{"orient":"left","values":[0,500,1000,1500,2000,2500,3000],"labelOverlap":false,"format":"d","title":null}}}},
   {"data":{"name":"ax"},"mark":{"type":"point","opacity":0},"encoding":{"x":{"field":"v","type":"quantitative","scale":{"domain":[0,273],"nice":false},"axis":{"orient":"top","values":[0,50,100,150,200,250],"labels":false,"domain":false,"tickSize":-3,"title":null}},"y":{"field":"y","type":"quantitative","scale":{"domain":[0,3300],"nice":false},"axis":{"orient":"right","values":[0,500,1000,1500,2000,2500,3000],"labels":false,"domain":false,"tickSize":-3,"title":null}}}},
   {"data":{"name":"h2"},"mark":{"type":"area","clip":true},"encoding":{"x":{"field":"x","type":"quantitative","scale":{"domain":[0,255],"nice":false},"axis":null},"y":{"field":"y","type":"quantitative","scale":{"domain":[0,3300],"nice":false},"axis":null},"color":{"datum":"直方图","scale":{"domain":["直方图","HGMM","GMM"],"range":["#3b3b8e","#ff1f1f","#6fc040"]},"legend":{"title":null,"orient":"none","legendX":76,"legendY":7,"labelOffset":5,"encode":{"symbols":{"update":{"shape":{"signal":"datum.value==='直方图'?'M-1,-0.45H1V0.45H-1Z':'stroke'"},"stroke":{"signal":"datum.value==='直方图'?'transparent':datum.value==='HGMM'?'#ff1f1f':'#6fc040'"},"strokeWidth":{"value":1.6},"fill":{"signal":"datum.value==='直方图'?'#3b3b8e':'transparent'"},"strokeDash":{"value":[]}}}}}}}},
   {"data":{"name":"gC2"},"mark":{"type":"line","clip":true,"strokeDash":[8,4],"strokeWidth":1.8,"interpolate":"monotone"},"encoding":{"x":{"field":"x","type":"quantitative","scale":{"domain":[0,255],"nice":false},"axis":null},"y":{"field":"y","type":"quantitative","scale":{"domain":[0,3300],"nice":false},"axis":null},"detail":{"field":"k"},"color":{"datum":"GMM"}}},
   {"data":{"name":"rC2"},"mark":{"type":"line","clip":true,"strokeWidth":1.5,"interpolate":"monotone"},"encoding":{"x":{"field":"x","type":"quantitative","scale":{"domain":[0,255],"nice":false},"axis":null},"y":{"field":"y","type":"quantitative","scale":{"domain":[0,3300],"nice":false},"axis":null},"color":{"datum":"HGMM"}}}
  ]}
 ],"spacing":42,"bounds":"flush","resolve":{"scale":{"color":"independent"},"legend":{"color":"independent"}}}
],"spacing":41,"bounds":"flush","resolve":{"scale":{"color":"independent"},"legend":{"color":"independent"}}}
],
"spacing":8,"bounds":"full",
"resolve":{"scale":{"color":"independent"},"legend":{"color":"independent"}}
}
